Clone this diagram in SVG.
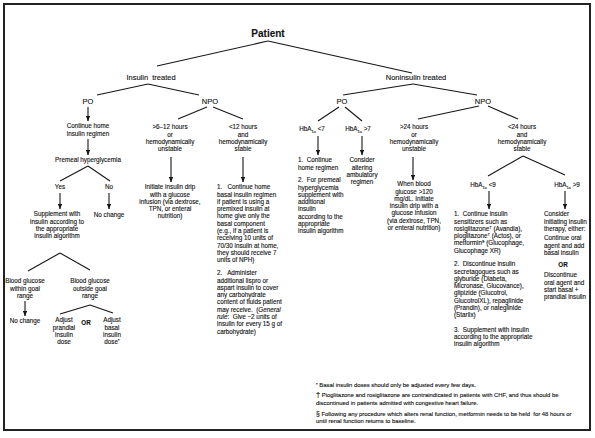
<svg xmlns="http://www.w3.org/2000/svg" width="595" height="438" viewBox="0 0 595 438">
<style>
text{font-family:"Liberation Sans",Arial,Helvetica,sans-serif;fill:#111;stroke:#111;stroke-width:0.12}
.t{font-size:6.3px}
.c{text-anchor:middle}
.h{font-size:7.5px}
.fn{font-size:5.9px}
.b{font-weight:bold}
.i{font-style:italic}
.ln{stroke:#161616;stroke-width:1.1;fill:none}
.ar{stroke:#161616;stroke-width:1.1;fill:none;marker-end:url(#ah)}
</style>
<defs>
<marker id="ah" viewBox="0 0 10 10" refX="9" refY="5" markerWidth="6" markerHeight="4.4" preserveAspectRatio="none" markerUnits="userSpaceOnUse" orient="auto"><path d="M0,0 L10,5 L0,10 z" fill="#161616"/></marker>
</defs>
<rect x="4" y="4" width="586" height="426" fill="#fff" stroke="#222" stroke-width="2"/>

<g id="connectors">
<line class="ln" x1="268" y1="41" x2="157" y2="66"/>
<line class="ln" x1="268" y1="41" x2="412" y2="73"/>
<line class="ln" x1="148" y1="84" x2="97" y2="95"/>
<line class="ln" x1="148" y1="84" x2="199" y2="95"/>
<line class="ln" x1="413" y1="84" x2="343" y2="95"/>
<line class="ln" x1="413" y1="84" x2="477" y2="95"/>
<line class="ar" x1="88" y1="107" x2="88" y2="121"/>
<line class="ar" x1="88" y1="139" x2="88" y2="155"/>
<line class="ln" x1="88" y1="166" x2="60" y2="181"/>
<line class="ln" x1="88" y1="166" x2="110" y2="181"/>
<line class="ar" x1="60" y1="193" x2="60" y2="209"/>
<line class="ar" x1="109" y1="193" x2="109" y2="209"/>
<line class="ln" x1="60" y1="253" x2="28" y2="271"/>
<line class="ln" x1="60" y1="253" x2="90" y2="270"/>
<line class="ar" x1="25" y1="301" x2="25" y2="316"/>
<line class="ln" x1="90" y1="305" x2="60" y2="314"/>
<line class="ln" x1="90" y1="305" x2="113" y2="313"/>
<line class="ln" x1="207" y1="107" x2="178" y2="119"/>
<line class="ln" x1="213" y1="107" x2="243" y2="119"/>
<line class="ar" x1="171" y1="157" x2="171" y2="182"/>
<line class="ar" x1="243" y1="157" x2="243" y2="182"/>
<line class="ln" x1="339" y1="107" x2="318" y2="121"/>
<line class="ln" x1="345" y1="107" x2="362" y2="121"/>
<line class="ar" x1="318" y1="136" x2="318" y2="155"/>
<line class="ar" x1="362" y1="136" x2="362" y2="155"/>
<line class="ln" x1="479" y1="106" x2="418" y2="119"/>
<line class="ln" x1="488" y1="106" x2="518" y2="119"/>
<line class="ar" x1="413" y1="157" x2="413" y2="180"/>
<line class="ln" x1="523" y1="156" x2="488" y2="176"/>
<line class="ln" x1="523" y1="156" x2="565" y2="175"/>
<line class="ar" x1="489" y1="191" x2="489" y2="209"/>
<line class="ar" x1="565" y1="191" x2="565" y2="209"/>
</g>

<g id="n-patient"><text class="c b" x="268" y="36.6" font-size="10">Patient</text></g>
<g id="n-insulin"><text class="h c" x="151" y="79.7">Insulin&#160; treated</text></g>
<g id="n-noninsulin"><text class="h c" x="416" y="79.7">Noninsulin treated</text></g>
<g id="n-po1"><text class="h c" x="88" y="103.7">PO</text></g>
<g id="n-npo1"><text class="h c" x="210" y="103.7">NPO</text></g>
<g id="n-po2"><text class="h c" x="342" y="103.7">PO</text></g>
<g id="n-npo2"><text class="h c" x="483" y="103.7">NPO</text></g>

<g id="n-continue-home"><text class="t c" x="88" y="128.2">Continue home<tspan x="88" dy="7.3">insulin regimen</tspan></text></g>
<g id="n-premeal"><text class="t c" x="88" y="162.2">Premeal hyperglycemia</text></g>
<g id="n-yes"><text class="t c" x="60" y="189.2">Yes</text></g>
<g id="n-no"><text class="t c" x="109" y="189.2">No</text></g>
<g id="n-supplement"><text class="t c" x="57" y="216.2">Supplement with<tspan x="57" dy="7.3">insulin according to</tspan><tspan x="57" dy="7.3">the appropriate</tspan><tspan x="57" dy="7.3">insulin algorithm</tspan></text></g>
<g id="n-nochange1"><text class="t c" x="109" y="217.2">No change</text></g>
<g id="n-bg-within"><text class="t c" x="25" y="283.2">Blood glucose<tspan x="25" dy="7.3">within goal</tspan><tspan x="25" dy="7.3">range</tspan></text></g>
<g id="n-bg-outside"><text class="t c" x="90" y="283.2">Blood glucose<tspan x="90" dy="7.3">outside goal</tspan><tspan x="90" dy="7.3">range</tspan></text></g>
<g id="n-nochange2"><text class="t c" x="25" y="323.2">No change</text></g>
<g id="n-adjust-prandial"><text class="t c" x="64" y="322.2">Adjust<tspan x="64" dy="7.3">prandial</tspan><tspan x="64" dy="7.3">insulin</tspan><tspan x="64" dy="7.3">dose</tspan></text></g>
<g id="n-or1"><text class="t c b" x="86" y="325.2">OR</text></g>
<g id="n-adjust-basal"><text class="t c" x="112" y="322.2">Adjust<tspan x="112" dy="7.3">basal</tspan><tspan x="112" dy="7.3">insulin</tspan><tspan x="112" dy="7.3">dose<tspan font-size="4.2" dy="-2">*</tspan></tspan></text></g>

<g id="n-gt6"><text class="t c" x="170" y="129.2">&gt;6–12 hours<tspan x="170" dy="7.3">or</tspan><tspan x="170" dy="7.3">hemodynamically</tspan><tspan x="170" dy="7.3">unstable</tspan></text></g>
<g id="n-lt12"><text class="t c" x="243" y="129.2">&lt;12 hours<tspan x="243" dy="7.3">and</tspan><tspan x="243" dy="7.3">hemodynamically</tspan><tspan x="243" dy="7.3">stable</tspan></text></g>
<g id="n-initiate"><text class="t c" x="170" y="189.2">Initiate insulin drip<tspan x="170" dy="7.3">with a glucose</tspan><tspan x="170" dy="7.3">infusion (via dextrose,</tspan><tspan x="170" dy="7.3">TPN, or enteral</tspan><tspan x="170" dy="7.3">nutrition)</tspan></text></g>
<g id="n-basal-regimen"><text class="t" x="217" y="189.2">1.&#160;&#160; Continue home<tspan x="217" dy="7.3">basal insulin regimen</tspan><tspan x="217" dy="7.3">if patient is using a</tspan><tspan x="217" dy="7.3">premixed insulin at</tspan><tspan x="217" dy="7.3">home give only the</tspan><tspan x="217" dy="7.3">basal component</tspan><tspan x="217" dy="7.3">(e.g., if a patient is</tspan><tspan x="217" dy="7.3">receiving 10 units of</tspan><tspan x="217" dy="7.3">70/30 insulin at home,</tspan><tspan x="217" dy="7.3">they should receive 7</tspan><tspan x="217" dy="7.3">units of NPH)</tspan><tspan x="217" dy="13">2.&#160;&#160; Administer</tspan><tspan x="217" dy="7.3">additional lispro or</tspan><tspan x="217" dy="7.3">aspart insulin to cover</tspan><tspan x="217" dy="7.3">any carbohydrate</tspan><tspan x="217" dy="7.3">content of fluids patient</tspan><tspan x="217" dy="7.3">may receive.&#160; (<tspan class="i">General</tspan></tspan><tspan x="217" dy="7.3"><tspan class="i">rule</tspan>:&#160; Give ~2 units of</tspan><tspan x="217" dy="7.3">insulin for every 15 g of</tspan><tspan x="217" dy="7.3">carbohydrate)</tspan></text></g>

<g id="n-hba-lt7"><text class="t c" x="312" y="131.2">HbA<tspan font-size="4.3" dy="1.6">1c</tspan><tspan dy="-1.6"> &lt;7</tspan></text></g>
<g id="n-hba-gt7"><text class="t c" x="358" y="131.2">HbA<tspan font-size="4.3" dy="1.6">1c</tspan><tspan dy="-1.6"> &gt;7</tspan></text></g>
<g id="n-continue-home2"><text class="t" x="298" y="162.2">1.&#160; Continue<tspan x="298" dy="7.3">home regimen</tspan><tspan x="298" dy="12.7">2.&#160; For premeal</tspan><tspan x="298" dy="7.3">hyperglycemia</tspan><tspan x="298" dy="7.3">supplement with</tspan><tspan x="298" dy="7.3">additional</tspan><tspan x="298" dy="7.3">insulin</tspan><tspan x="298" dy="7.3">according to the</tspan><tspan x="298" dy="7.3">appropriate</tspan><tspan x="298" dy="7.3">insulin algorithm</tspan></text></g>
<g id="n-consider-alter"><text class="t c" x="362" y="162.2">Consider<tspan x="362" dy="7.3">altering</tspan><tspan x="362" dy="7.3">ambulatory</tspan><tspan x="362" dy="7.3">regimen</tspan></text></g>

<g id="n-gt24"><text class="t c" x="414" y="129.2">&gt;24 hours<tspan x="414" dy="7.3">or</tspan><tspan x="414" dy="7.3">hemodynamically</tspan><tspan x="414" dy="7.3">unstable</tspan></text></g>
<g id="n-lt24"><text class="t c" x="522" y="129.2">&lt;24 hours<tspan x="522" dy="7.3">and</tspan><tspan x="522" dy="7.3">hemodynamically</tspan><tspan x="522" dy="7.3">stable</tspan></text></g>
<g id="n-when-bg"><text class="t c" x="414" y="186.2">When blood<tspan x="414" dy="7.3">glucose &gt;120</tspan><tspan x="414" dy="7.3">mg/dL. Initiate</tspan><tspan x="414" dy="7.3">insulin drip with a</tspan><tspan x="414" dy="7.3">glucose infusion</tspan><tspan x="414" dy="7.3">(via dextrose, TPN,</tspan><tspan x="414" dy="7.3">or enteral nutrition)</tspan></text></g>
<g id="n-hba-lt9"><text class="t c" x="483" y="187.2">HbA<tspan font-size="4.3" dy="1.6">1c</tspan><tspan dy="-1.6"> &lt;9</tspan></text></g>
<g id="n-hba-gt9"><text class="t c" x="567" y="187.2">HbA<tspan font-size="4.3" dy="1.6">1c</tspan><tspan dy="-1.6"> &gt;9</tspan></text></g>
<g id="n-sensitizers"><text class="t" x="454" y="216.2">1.&#160; Continue insulin<tspan x="454" dy="7.3">sensitizers such as</tspan><tspan x="454" dy="7.3">rosiglitazone<tspan font-size="4.3" dy="-2">†</tspan><tspan dy="2"> (Avandia),</tspan></tspan><tspan x="454" dy="7.3">pioglitazone<tspan font-size="4.3" dy="-2">†</tspan><tspan dy="2"> (Actos), or</tspan></tspan><tspan x="454" dy="7.3">metformin<tspan font-size="4.3" dy="-2">§</tspan><tspan dy="2"> (Glucophage,</tspan></tspan><tspan x="454" dy="7.3">Glucophage XR)</tspan><tspan x="454" dy="13.5">2.&#160; Discontinue insulin</tspan><tspan x="454" dy="7.3">secretagogues such as</tspan><tspan x="454" dy="7.3">glyburide (Diabeta,</tspan><tspan x="454" dy="7.3">Micronase, Glucovance),</tspan><tspan x="454" dy="7.3">glipizide (Glucotrol,</tspan><tspan x="454" dy="7.3">GlucotrolXL), repaglinide</tspan><tspan x="454" dy="7.3">(Prandin), or nateglinide</tspan><tspan x="454" dy="7.3">(Starlix)</tspan><tspan x="454" dy="14.5">3.&#160; Supplement with insulin</tspan><tspan x="454" dy="7.3">according to the appropriate</tspan><tspan x="454" dy="7.3">insulin algorithm</tspan></text></g>
<g id="n-consider-init"><text class="t" x="544" y="216.2">Consider<tspan x="544" dy="7.3">initiating insulin</tspan><tspan x="544" dy="7.3">therapy, either:</tspan><tspan x="544" dy="9.4">Continue oral</tspan><tspan x="544" dy="7.3">agent and add</tspan><tspan x="544" dy="7.3">basal insulin</tspan><tspan x="563" dy="12.4" class="b" text-anchor="middle">OR</tspan><tspan x="544" dy="10">Discontinue</tspan><tspan x="544" dy="7.3">oral agent and</tspan><tspan x="544" dy="7.3">start basal +</tspan><tspan x="544" dy="7.3">prandial insulin</tspan></text></g>

<g id="n-footnotes">
<text class="fn" x="316" y="387"><tspan font-size="4.2" dy="-1.5">*</tspan><tspan dy="1.5"> Basal insulin doses should only be adjusted every few days.</tspan></text>
<text class="fn" x="316" y="397"><tspan font-size="7.5">†</tspan> Pioglitazone and rosiglitazone are contraindicated in patients with CHF, and thus should be</text>
<text class="fn" x="316" y="404.5">discontinued in patients admitted with congestive heart failure.</text>
<text class="fn" x="316" y="415.5"><tspan font-size="6.8">§</tspan> Following any procedure which alters renal function, metformin needs to be held&#160; for 48 hours or</text>
<text class="fn" x="316" y="423">until renal function returns to baseline.</text>
</g>
</svg>
